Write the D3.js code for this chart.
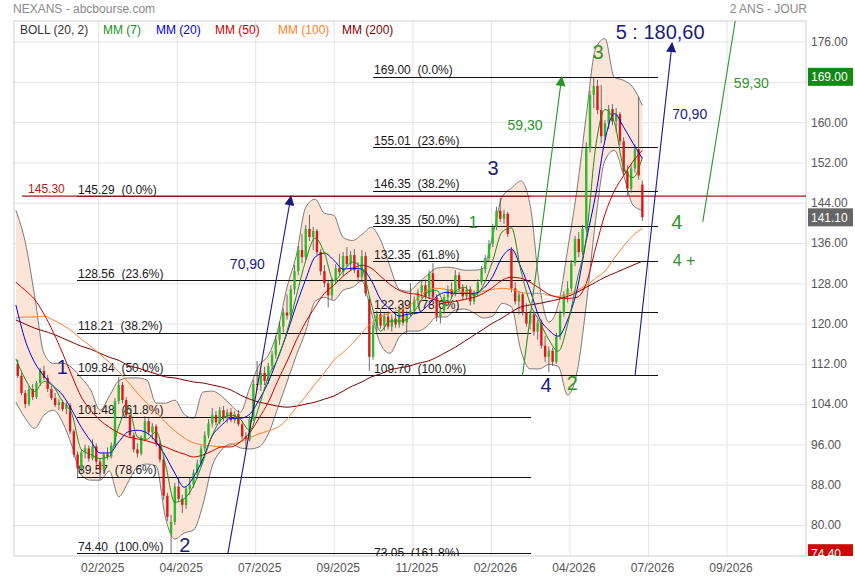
<!DOCTYPE html>
<html>
<head>
<meta charset="utf-8">
<title>NEXANS - abcbourse.com</title>
<script src="https://cdn.jsdelivr.net/npm/d3@7"></script>
<style>
  body { margin: 0; background: #fff; }
  svg text { font-family: Arial, "Liberation Sans", sans-serif; }
</style>
</head>
<body>
<script>
// daily candles, one row per bar: open, high, low, close
var candles = [
 [112.0,112.8,109.2,109.6],[109.6,110.2,105.8,106.2],[106.2,106.8,103.2,104.0],[104.0,107.6,103.6,107.0],
 [107.0,108.0,104.8,105.4],[105.4,108.6,105.0,108.2],[108.2,111.2,107.6,110.6],[110.6,111.6,108.8,109.2],
 [109.2,109.8,106.4,107.0],[107.0,107.6,104.8,105.2],[105.2,106.2,103.4,103.8],[103.8,105.0,102.8,104.4],
 [104.4,104.8,102.6,103.0],[103.0,104.4,102.0,103.8],[103.8,104.2,98.0,98.6],[98.6,99.0,93.4,94.0],
 [94.0,94.6,89.6,91.2],[91.2,95.0,90.6,94.4],[94.4,96.0,93.2,95.2],[95.2,95.8,92.6,93.2],
 [93.2,97.0,92.8,95.6],[95.6,96.2,92.0,92.6],[92.6,93.2,89.0,91.0],[91.0,94.4,90.6,94.0],
 [94.0,95.4,93.0,93.6],[93.6,96.4,93.2,95.8],[95.8,105.2,95.4,104.6],[104.6,109.4,104.0,107.8],
 [107.8,108.4,104.2,104.8],[104.8,105.4,101.2,101.8],[101.8,102.4,97.2,97.8],[97.8,98.4,94.4,95.0],
 [95.0,96.2,93.4,94.2],[94.2,97.8,93.8,97.2],[97.2,101.6,96.8,100.6],[100.6,101.2,97.8,98.4],
 [98.4,100.2,97.0,99.6],[99.6,100.0,95.6,96.2],[96.2,96.8,92.4,93.0],[93.0,93.6,85.0,85.8],
 [85.8,86.4,80.8,81.6],[78.2,82.0,74.4,80.6],[80.6,88.4,80.0,87.6],[87.6,89.4,84.6,85.2],
 [85.2,86.0,82.4,84.0],[84.0,87.8,83.2,87.2],[87.2,89.4,86.0,88.0],[88.0,91.0,87.4,90.4],
 [90.4,93.0,89.2,92.2],[92.2,95.8,91.6,95.2],[95.2,98.6,94.6,97.8],[97.8,101.0,97.2,100.2],
 [100.2,103.2,99.4,101.8],[101.8,102.6,99.8,100.4],[100.4,103.4,100.0,102.8],[102.8,103.6,100.6,101.2],
 [101.2,103.0,100.2,102.4],[102.4,103.2,100.4,100.8],[100.8,102.6,100.2,102.0],[102.0,102.8,99.6,100.0],
 [100.0,100.6,97.0,97.6],[97.6,98.4,95.0,97.0],[97.0,101.6,96.6,101.0],[101.0,108.8,100.6,108.0],
 [108.0,112.6,106.8,107.8],[107.8,110.8,106.6,110.2],[110.2,111.4,107.8,108.6],[108.6,112.2,108.0,111.6],
 [111.6,114.6,110.8,113.8],[113.8,117.6,113.0,116.8],[116.8,120.4,115.8,119.4],[119.4,123.0,118.2,122.2],
 [122.2,125.8,120.8,121.6],[121.6,127.6,121.0,126.8],[126.8,131.6,125.8,130.4],[130.4,135.4,129.6,134.6],
 [134.6,137.8,132.0,133.2],[133.2,139.6,132.6,138.8],[138.8,141.6,136.4,137.2],[137.2,139.2,134.6,138.4],
 [138.4,138.8,133.6,134.2],[134.2,134.8,129.6,130.4],[130.4,131.6,127.2,128.0],[128.0,128.6,123.2,125.6],
 [125.6,129.0,124.8,128.4],[128.4,131.8,127.8,131.0],[131.0,133.8,129.6,130.2],[130.2,134.2,129.4,133.4],
 [133.4,135.2,131.2,131.8],[131.8,134.4,130.6,133.6],[133.6,134.8,130.0,130.6],[130.6,132.2,128.2,129.2],
 [129.2,134.6,128.6,133.4],[133.4,134.2,125.4,126.0],[124.8,125.4,110.6,113.4],[113.4,120.2,112.8,119.6],
 [119.6,122.6,118.4,121.8],[121.8,122.8,119.0,119.6],[119.6,122.2,118.6,121.4],[121.4,122.4,118.8,119.4],
 [119.4,121.8,118.4,121.0],[121.0,122.2,119.2,119.8],[119.8,123.6,119.2,122.8],[122.8,124.0,119.6,120.2],
 [120.2,122.6,117.8,122.0],[122.0,128.0,121.4,122.6],[122.6,125.4,121.8,124.6],[124.6,126.8,123.6,126.2],
 [126.2,128.4,125.0,127.6],[127.6,128.8,124.8,125.4],[125.4,130.6,124.8,130.0],[130.0,132.0,124.6,125.2],
 [125.2,125.8,120.4,121.4],[121.4,123.4,120.0,122.6],[122.6,125.8,122.0,125.2],[125.2,127.6,124.2,126.8],
 [126.8,128.2,125.2,125.8],[125.8,130.6,125.4,129.6],[129.6,130.2,126.4,127.0],[127.0,127.8,124.6,125.4],
 [125.4,127.6,124.8,126.8],[126.8,127.4,123.6,124.4],[124.4,126.6,123.8,126.0],[126.0,128.8,125.4,128.2],
 [128.2,131.4,127.6,130.8],[130.8,133.6,130.0,133.0],[133.0,136.6,132.2,135.8],[135.8,139.8,135.2,139.2],
 [139.2,143.2,138.6,142.4],[142.4,145.0,140.2,140.8],[140.8,142.6,139.8,141.8],[141.8,142.2,137.2,137.8],
 [134.6,135.2,126.2,127.0],[127.0,128.2,123.8,124.4],[124.4,126.4,121.8,125.8],[125.8,126.2,121.6,122.2],
 [122.2,124.0,119.4,120.0],[120.0,122.6,118.8,121.8],[121.8,122.4,117.6,118.4],[118.4,120.8,116.8,120.2],
 [120.2,120.8,115.0,115.6],[115.6,117.6,112.4,113.4],[113.4,115.4,110.4,114.6],[114.6,115.2,111.6,112.4],
 [112.4,118.2,112.0,117.4],[117.4,122.6,116.8,122.0],[122.0,126.4,121.4,125.8],[125.8,128.4,124.2,127.0],
 [127.0,132.6,126.4,132.0],[132.0,137.4,131.4,136.8],[136.8,138.2,133.2,134.2],[134.2,139.6,133.6,138.8],
 [138.8,156.0,138.2,154.8],[154.8,166.2,154.0,165.4],[165.4,169.0,162.8,167.2],[167.2,168.4,161.6,162.4],
 [162.4,167.4,155.8,157.2],[157.2,160.4,156.4,159.8],[159.8,163.4,158.6,162.6],[162.6,163.6,159.4,160.2],
 [160.2,162.8,158.0,161.6],[161.6,162.0,155.4,156.2],[156.2,157.0,149.4,150.2],[150.2,151.4,145.4,146.8],
 [146.8,151.6,146.0,150.8],[150.8,155.6,150.0,154.6],[154.6,165.0,148.6,149.4],[147.6,148.4,140.4,141.1]
];

// indicator readings, one value every 5 trading days
var bollUpper = [142.5,136.2,125.6,114.1,112.1,112.1,111.2,109.2,106.8,102.8,
  105.6,108.6,109.2,109.2,108.8,104.2,104.2,104.8,102.0,101.2,
  106.4,106.6,105.6,103.8,102.4,107.2,111.7,113.7,118.7,127.2,
  133.6,143.1,144.7,141.9,141.5,137.1,136.5,137.7,139.1,136.6,
  131.4,126.8,126.4,128.0,129.6,131.0,131.2,131.0,130.6,130.6,
  131.0,137.5,145.1,146.9,148.3,143.5,127.6,120.3,123.7,134.6,
  146.5,161.3,174.6,176.6,168.9,168.3,166.9,163.3];
var bollLower = [104.4,101.2,99.2,101.8,102.8,100.4,95.7,89.9,88.9,88.9,
  90.7,85.6,88.5,91.5,92.1,91.7,81.4,77.2,78.4,79.0,
  84.0,91.7,94.9,96.1,95.3,95.1,95.5,98.1,103.2,108.4,
  113.7,118.5,124.4,125.2,124.6,126.6,127.2,128.4,122.3,115.9,
  114.1,117.3,118.5,118.5,119.5,121.3,121.3,122.7,122.9,122.1,
  121.1,121.5,124.0,123.3,114.7,111.0,111.0,111.9,111.5,105.8,
  110.2,123.7,140.5,152.4,154.4,149.4,143.5,142.5];
var mm7 = [113.0,109.0,106.5,108.5,107.5,104.5,102.0,95.0,94.0,93.2,
  93.6,99.5,103.5,97.5,97.0,98.5,92.0,84.5,85.2,87.8,
  92.5,97.8,101.0,101.8,101.0,98.8,103.5,109.5,113.0,118.5,
  125.5,132.5,137.0,134.0,128.5,130.4,132.2,131.0,124.0,118.5,
  120.5,120.5,121.0,123.5,126.2,126.6,123.5,126.4,127.2,125.6,
  127.6,132.5,138.2,139.0,130.6,124.0,120.4,116.8,114.5,119.8,
  128.5,137.0,155.0,162.5,160.0,151.0,149.0,153.0];
var mm20 = [123.7,116.7,112.3,109.6,107.6,105.8,102.8,99.4,96.7,94.3,
  94.3,96.5,98.5,98.8,98.3,96.5,93.7,90.3,87.5,89.5,
  93.1,97.7,99.8,101.2,101.2,102.0,104.8,108.4,113.1,118.1,
  123.7,128.8,133.2,134.0,132.6,130.8,131.0,130.8,128.6,124.8,
  122.9,121.5,121.9,122.1,123.5,125.4,126.2,126.0,126.0,126.0,
  127.0,129.4,133.2,134.8,131.2,126.6,121.1,118.7,117.5,120.7,
  126.6,136.5,145.5,156.4,161.7,159.0,155.8,152.8];
var mm50 = [128.2,126.6,124.8,121.9,118.3,114.1,109.6,105.4,102.8,100.8,
  99.4,98.3,97.5,97.1,96.7,96.1,95.5,94.7,94.1,93.5,
  93.9,94.7,95.5,95.5,96.5,98.3,101.2,104.4,108.6,112.5,
  116.7,120.3,123.3,126.0,127.6,129.4,130.8,131.6,131.0,129.4,
  127.8,126.6,126.0,125.8,125.2,124.6,124.2,124.4,124.8,125.2,
  126.0,127.2,128.6,129.2,129.0,128.2,127.0,125.8,125.2,125.0,
  125.2,128.0,135.0,141.7,146.3,149.4,152.2,154.4];
var mm100 = [121.1,121.3,121.3,121.5,120.7,119.7,118.5,116.9,115.5,113.9,
  112.3,110.4,108.4,106.2,104.2,102.4,100.4,98.7,97.3,96.3,
  95.9,95.7,95.5,95.9,96.5,97.3,98.1,98.7,99.4,101.0,
  103.4,105.6,108.0,110.2,112.7,114.3,116.1,118.1,120.1,121.3,
  122.1,122.7,123.5,125.0,126.6,127.0,126.8,126.4,126.2,126.0,
  126.4,126.8,127.0,126.8,126.2,126.0,126.0,125.6,125.4,125.8,
  126.6,127.6,129.0,130.4,133.0,135.4,137.5,138.9];
var mm200 = [120.7,119.9,119.1,118.5,117.9,117.1,116.3,115.5,114.9,114.1,
  113.3,112.7,111.7,111.2,110.6,110.0,109.4,109.2,108.8,108.4,
  108.2,107.8,107.4,106.8,105.8,105.0,104.4,104.0,103.6,103.4,
  103.6,104.0,104.4,105.0,105.6,106.6,107.6,108.4,109.4,110.0,
  110.8,111.2,111.5,112.1,112.5,113.3,114.3,115.3,116.5,117.7,
  118.9,120.1,121.1,122.3,123.3,123.7,124.0,124.4,124.8,125.4,
  126.2,127.2,128.2,129.2,130.0,130.8,131.6,132.4];

// axes
var priceTicks = [80, 88, 96, 104, 112, 120, 128, 136, 144, 152, 160, 168, 176];
var monthDays = [44, 86, 128, 170, 212, 254, 296, 338, 380];
var monthLabels = ["02/2025", "04/2025", "07/2025", "09/2025", "11/2025", "02/2026", "04/2026", "07/2026", "09/2026"];

// Fibonacci retracements
var fibA = [145.29, 128.56, 118.21, 109.84, 101.48, 89.57, 74.40];
var fibAPct = ["0.0%", "23.6%", "38.2%", "50.0%", "61.8%", "78.6%", "100.0%"];
var fibADays = [32.7, 275.5];
var fibB = [169.00, 155.01, 146.35, 139.35, 132.35, 122.39, 109.70, 73.05];
var fibBPct = ["0.0%", "23.6%", "38.2%", "50.0%", "61.8%", "78.6%", "100.0%", "161.8%"];
var fibBDays = [191.0, 343.4];
var resistance = 145.30;
var resistanceStart = 3.3;

// projection arrows [day0, price0, day1, price1]
var blueArrows = [[113.4, 74.40, 147.1, 145.30], [331.1, 109.70, 350.9, 175.7]];
var greenArrows = [[270.9, 109.70, 291.9, 169.00], [367.3, 140.2, 393.1, 199.5]];

// wave counts and amplitudes
var navyText = ["1", "2", "3", "4", "5 : 180,60", "70,90", "70,90"];
var navyDay = [24.8, 90.4, 255.1, 283.5, 344.5, 123.8, 360.3];
var navyPrice = [111.4, 76.0, 150.9, 107.8, 177.9, 131.9, 161.6];
var greenText = ["1", "2", "3", "4", "4 +", "59,30", "59,30"];
var greenDay = [244.6, 297.6, 311.3, 353.4, 357.3, 272.3, 393.3];
var greenPrice = [140.2, 108.2, 173.9, 140.2, 132.6, 159.4, 167.7];

var tagValues = [169.00, 141.10, 74.40];
var legendLabels = ["BOLL (20, 2)", "MM (7)", "MM (20)", "MM (50)", "MM (100)", "MM (200)"];

// ---------------------------------------------------------------
var width = 855, height = 580;
var box = {left: 14, right: 806, top: 21, bottom: 556};
var font = "Arial, 'Liberation Sans', sans-serif";
var navy = "#1b1b7e", green = "#2a962a";

var x = d3.scaleLinear().domain([-1, 422.5]).range([box.left, box.right]);
var y = d3.scaleLinear().domain([73.84, 180.09]).range([box.bottom, box.top]);

function candleDay(i) { return 1 + 2 * i; }
function sampleDay(i) { return 5 * i; }

var svg = d3.select("body").append("svg")
    .attr("width", width)
    .attr("height", height);

var defs = svg.append("defs");
defs.append("clipPath").attr("id", "plotClip")
    .append("rect")
    .attr("x", box.left).attr("y", box.top)
    .attr("width", box.right - box.left).attr("height", box.bottom - box.top);
defs.append("clipPath").attr("id", "tagClip")
    .append("rect")
    .attr("x", box.right).attr("y", box.top)
    .attr("width", width - box.right).attr("height", box.bottom - box.top);

function arrowMarker(id, color) {
    defs.append("marker")
        .attr("id", id)
        .attr("viewBox", "0 0 10 10")
        .attr("refX", 9).attr("refY", 5)
        .attr("markerWidth", 11).attr("markerHeight", 10)
        .attr("markerUnits", "userSpaceOnUse")
        .attr("orient", "auto")
        .append("path")
        .attr("d", "M0,0L10,5L0,10Z")
        .attr("fill", color);
}
arrowMarker("headNavy", navy);
arrowMarker("headGreen", green);

// grid
svg.append("g")
    .attr("transform", "translate(" + box.left + ",0)")
    .call(d3.axisLeft(y).tickValues(priceTicks).tickSize(-(box.right - box.left)).tickFormat(""))
    .call(function(g) { g.select(".domain").remove(); })
    .selectAll("line").attr("stroke", "#e4e4e4");

svg.append("g")
    .attr("transform", "translate(0," + box.bottom + ")")
    .call(d3.axisBottom(x).tickValues(monthDays).tickSize(-(box.bottom - box.top)).tickFormat(""))
    .call(function(g) { g.select(".domain").remove(); })
    .selectAll("line").attr("stroke", "#e4e4e4");

svg.append("rect")
    .attr("x", box.left).attr("y", box.top)
    .attr("width", box.right - box.left).attr("height", box.bottom - box.top)
    .attr("fill", "none")
    .attr("stroke", "#cfcfcf");

var plot = svg.append("g").attr("clip-path", "url(#plotClip)");

// Bollinger bands
var band = d3.area()
    .x(function(d, i) { return x(sampleDay(i)); })
    .y0(function(d, i) { return y(bollLower[i]); })
    .y1(function(d) { return y(d); })
    .curve(d3.curveMonotoneX);

var line = d3.line()
    .x(function(d, i) { return x(sampleDay(i)); })
    .y(function(d) { return y(d); })
    .curve(d3.curveMonotoneX);

plot.append("path").datum(bollUpper)
    .attr("d", band)
    .attr("fill", "#fce4d6");
[bollUpper, bollLower].forEach(function(s) {
    plot.append("path").datum(s)
        .attr("d", line)
        .attr("fill", "none")
        .attr("stroke", "#7a7a7a")
        .attr("stroke-width", 1);
});

// Fibonacci levels
function drawFib(levels, pcts, days) {
    var g = plot.append("g");
    g.selectAll("line")
        .data(levels)
        .enter()
        .append("line")
        .attr("x1", x(days[0]))
        .attr("x2", x(days[1]))
        .attr("y1", function(d) { return Math.round(y(d)) + 0.5; })
        .attr("y2", function(d) { return Math.round(y(d)) + 0.5; })
        .attr("stroke", "#111")
        .attr("stroke-width", 1);
    g.selectAll("text")
        .data(levels)
        .enter()
        .append("text")
        .attr("xml:space", "preserve")
        .style("white-space", "pre")
        .text(function(d, i) { return d.toFixed(2) + "  (" + pcts[i] + ")"; })
        .attr("x", x(days[0]) + 1)
        .attr("y", function(d) { return y(d) - 2.5; })
        .attr("font-size", "12px")
        .attr("fill", "#1a1a1a");
}
drawFib(fibA, fibAPct, fibADays);
drawFib(fibB, fibBPct, fibBDays);

plot.append("line")
    .attr("x1", x(resistanceStart)).attr("x2", box.right)
    .attr("y1", y(resistance)).attr("y2", y(resistance))
    .attr("stroke", "#a8141a")
    .attr("stroke-width", 1.2);
plot.append("text")
    .text(resistance.toFixed(2))
    .attr("x", x(resistanceStart) + 6)
    .attr("y", y(resistance) - 3)
    .attr("font-size", "12px")
    .attr("fill", "#b01818");

// candles
var bodyW = 2.4;
var cg = plot.append("g");
cg.selectAll("line")
    .data(candles)
    .enter()
    .append("line")
    .attr("x1", function(d, i) { return x(candleDay(i)); })
    .attr("x2", function(d, i) { return x(candleDay(i)); })
    .attr("y1", function(d) { return y(d[1]); })
    .attr("y2", function(d) { return y(d[2]); })
    .attr("stroke", "#4a4a4a")
    .attr("stroke-width", 0.8);
cg.selectAll("rect")
    .data(candles)
    .enter()
    .append("rect")
    .attr("x", function(d, i) { return x(candleDay(i)) - bodyW / 2; })
    .attr("y", function(d) { return y(Math.max(d[0], d[3])); })
    .attr("width", bodyW)
    .attr("height", function(d) { return Math.max(1, Math.abs(y(d[0]) - y(d[3]))); })
    .attr("fill", function(d) { return d[3] >= d[0] ? "#2dbb2d" : "#d81c1c"; });

// moving averages
var maSeries = [[mm200, "#7f0000"], [mm100, "#ff7f27"], [mm50, "#cc0000"], [mm20, "#0000ee"], [mm7, "#169016"]];
maSeries.forEach(function(s) {
    plot.append("path").datum(s[0])
        .attr("d", line)
        .attr("fill", "none")
        .attr("stroke", s[1])
        .attr("stroke-width", 1);
});

// projection arrows
function drawArrows(list, color, head) {
    plot.append("g").selectAll("line")
        .data(list)
        .enter()
        .append("line")
        .attr("x1", function(d) { return x(d[0]); })
        .attr("y1", function(d) { return y(d[1]); })
        .attr("x2", function(d) { return x(d[2]); })
        .attr("y2", function(d) { return y(d[3]); })
        .attr("stroke", color)
        .attr("stroke-width", 1.1)
        .attr("marker-end", "url(#" + head + ")");
}
drawArrows(blueArrows, navy, "headNavy");
drawArrows(greenArrows, green, "headGreen");

// wave labels
function labelSize(t) {
    if (t.indexOf(",") > 0 && t.indexOf(":") < 0) return 14;
    if (t === "4 +") return 16;
    return 20;
}
function drawLabels(texts, days, prices, color, small) {
    plot.append("g").selectAll("text")
        .data(texts)
        .enter()
        .append("text")
        .text(function(d) { return d; })
        .attr("x", function(d, i) { return x(days[i]); })
        .attr("y", function(d, i) { return y(prices[i]); })
        .attr("text-anchor", "middle")
        .attr("dy", "0.36em")
        .attr("font-size", function(d, i) { return (small.indexOf(i) >= 0 ? 16 : labelSize(d)) + "px"; })
        .attr("fill", color);
}
drawLabels(navyText, navyDay, navyPrice, navy, []);
drawLabels(greenText, greenDay, greenPrice, green, [0]);

// right price axis (a tick label hidden behind a price tag is not drawn)
var shownTicks = priceTicks.filter(function(t) {
    return tagValues.every(function(v) { return Math.abs(y(t) - y(v)) > 12; });
});
svg.append("g")
    .attr("transform", "translate(" + box.right + ",0)")
    .call(d3.axisRight(y).tickValues(shownTicks).tickSize(0).tickPadding(5).tickFormat(d3.format(".2f")))
    .call(function(g) { g.select(".domain").remove(); })
    .selectAll("text")
    .attr("font-family", font)
    .attr("font-size", "12px")
    .attr("fill", "#555");

var tagColors = ["#108a10", "#666666", "#cc0a0a"];
var tags = svg.append("g").attr("clip-path", "url(#tagClip)");
tags.selectAll("rect")
    .data(tagValues)
    .enter()
    .append("rect")
    .attr("x", box.right + 2)
    .attr("y", function(d) { return y(d) - 9; })
    .attr("width", 45)
    .attr("height", 18)
    .attr("fill", function(d, i) { return tagColors[i]; });
tags.selectAll("text")
    .data(tagValues)
    .enter()
    .append("text")
    .text(function(d) { return d.toFixed(2); })
    .attr("x", box.right + 5)
    .attr("y", function(d) { return y(d); })
    .attr("dy", "0.36em")
    .attr("font-size", "12px")
    .attr("fill", "#fff");

// bottom date axis
svg.append("g")
    .attr("transform", "translate(4," + box.bottom + ")")
    .call(d3.axisBottom(x).tickValues(monthDays).tickSize(0).tickPadding(7)
        .tickFormat(function(d, i) { return monthLabels[i]; }))
    .call(function(g) { g.select(".domain").remove(); })
    .selectAll("text")
    .attr("font-family", font)
    .attr("font-size", "12px")
    .attr("fill", "#555");

// title and legend
svg.append("text")
    .text("NEXANS - abcbourse.com")
    .attr("x", 13).attr("y", 13)
    .attr("font-size", "12px")
    .attr("fill", "#8a8a8a");
svg.append("text")
    .text("2 ANS - JOUR")
    .attr("x", 807).attr("y", 13)
    .attr("text-anchor", "end")
    .attr("font-size", "12px")
    .attr("fill", "#8a8a8a");

var legendColors = ["#333333", "#169016", "#0000ee", "#cc0000", "#ff7f27", "#7f0000"];
var legendX = [20, 103, 156, 215, 278, 342];
svg.append("g").selectAll("text")
    .data(legendLabels)
    .enter()
    .append("text")
    .text(function(d) { return d; })
    .attr("x", function(d, i) { return legendX[i]; })
    .attr("y", 34)
    .attr("font-size", "12px")
    .attr("fill", function(d, i) { return legendColors[i]; });
</script>
</body>
</html>
